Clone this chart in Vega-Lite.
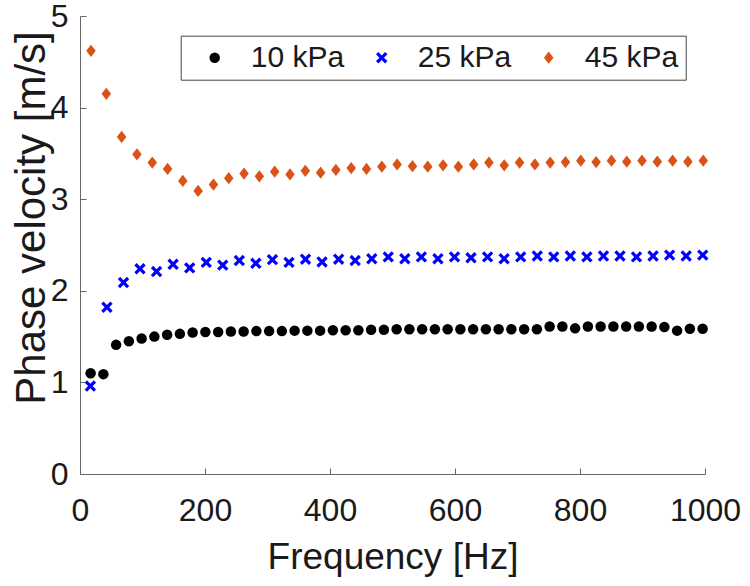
{
  "$schema": "https://vega.github.io/schema/vega-lite/v6.json",
  "width": 625,
  "height": 458,
  "autosize": {"type": "none"},
  "padding": {"left": 80, "top": 16, "right": 45, "bottom": 112},
  "background": "white",
  "config": {"view": {"stroke": null}, "font": "Liberation Sans"},
  "data": {"values": [
    {"s":"10 kPa","f":17,"v":1.10},{"s":"10 kPa","f":37.4,"v":1.09},{"s":"10 kPa","f":57.8,"v":1.41},{"s":"10 kPa","f":78.2,"v":1.45},
    {"s":"10 kPa","f":98.6,"v":1.48},{"s":"10 kPa","f":119,"v":1.50},{"s":"10 kPa","f":139.4,"v":1.52},{"s":"10 kPa","f":159.8,"v":1.53},
    {"s":"10 kPa","f":180.2,"v":1.545},{"s":"10 kPa","f":200.6,"v":1.55},{"s":"10 kPa","f":221,"v":1.55},{"s":"10 kPa","f":241.4,"v":1.555},
    {"s":"10 kPa","f":261.8,"v":1.555},{"s":"10 kPa","f":282.2,"v":1.56},{"s":"10 kPa","f":302.6,"v":1.56},{"s":"10 kPa","f":323,"v":1.56},
    {"s":"10 kPa","f":343.4,"v":1.565},{"s":"10 kPa","f":363.8,"v":1.565},{"s":"10 kPa","f":384.2,"v":1.565},{"s":"10 kPa","f":404.6,"v":1.57},
    {"s":"10 kPa","f":425,"v":1.57},{"s":"10 kPa","f":445.4,"v":1.57},{"s":"10 kPa","f":465.8,"v":1.575},{"s":"10 kPa","f":486.2,"v":1.575},
    {"s":"10 kPa","f":506.6,"v":1.58},{"s":"10 kPa","f":527,"v":1.58},{"s":"10 kPa","f":547.4,"v":1.58},{"s":"10 kPa","f":567.8,"v":1.58},
    {"s":"10 kPa","f":588.2,"v":1.58},{"s":"10 kPa","f":608.6,"v":1.58},{"s":"10 kPa","f":629,"v":1.58},{"s":"10 kPa","f":649.4,"v":1.58},
    {"s":"10 kPa","f":669.8,"v":1.58},{"s":"10 kPa","f":690.2,"v":1.58},{"s":"10 kPa","f":710.6,"v":1.58},{"s":"10 kPa","f":731,"v":1.58},
    {"s":"10 kPa","f":751.4,"v":1.61},{"s":"10 kPa","f":771.8,"v":1.61},{"s":"10 kPa","f":792.2,"v":1.59},{"s":"10 kPa","f":812.6,"v":1.61},
    {"s":"10 kPa","f":833,"v":1.61},{"s":"10 kPa","f":853.4,"v":1.61},{"s":"10 kPa","f":873.8,"v":1.61},{"s":"10 kPa","f":894.2,"v":1.61},
    {"s":"10 kPa","f":914.6,"v":1.61},{"s":"10 kPa","f":935,"v":1.605},{"s":"10 kPa","f":955.4,"v":1.565},{"s":"10 kPa","f":975.8,"v":1.585},
    {"s":"10 kPa","f":996.2,"v":1.585},
    {"s":"25 kPa","f":16.6,"v":0.96},{"s":"25 kPa","f":43.1,"v":1.82},{"s":"25 kPa","f":69.6,"v":2.09},{"s":"25 kPa","f":96.0,"v":2.24},
    {"s":"25 kPa","f":122.5,"v":2.21},{"s":"25 kPa","f":149.0,"v":2.29},{"s":"25 kPa","f":175.5,"v":2.25},{"s":"25 kPa","f":202.0,"v":2.31},
    {"s":"25 kPa","f":228.4,"v":2.28},{"s":"25 kPa","f":254.9,"v":2.33},{"s":"25 kPa","f":281.4,"v":2.30},{"s":"25 kPa","f":307.9,"v":2.34},
    {"s":"25 kPa","f":334.4,"v":2.31},{"s":"25 kPa","f":360.8,"v":2.345},{"s":"25 kPa","f":387.3,"v":2.315},{"s":"25 kPa","f":413.8,"v":2.345},
    {"s":"25 kPa","f":440.3,"v":2.33},{"s":"25 kPa","f":466.8,"v":2.35},{"s":"25 kPa","f":493.2,"v":2.37},{"s":"25 kPa","f":519.7,"v":2.35},
    {"s":"25 kPa","f":546.2,"v":2.37},{"s":"25 kPa","f":572.7,"v":2.35},{"s":"25 kPa","f":599.2,"v":2.37},{"s":"25 kPa","f":625.6,"v":2.36},
    {"s":"25 kPa","f":652.1,"v":2.37},{"s":"25 kPa","f":678.6,"v":2.35},{"s":"25 kPa","f":705.1,"v":2.37},{"s":"25 kPa","f":731.6,"v":2.38},
    {"s":"25 kPa","f":758.0,"v":2.37},{"s":"25 kPa","f":784.5,"v":2.38},{"s":"25 kPa","f":811.0,"v":2.37},{"s":"25 kPa","f":837.5,"v":2.38},
    {"s":"25 kPa","f":864.0,"v":2.38},{"s":"25 kPa","f":890.4,"v":2.37},{"s":"25 kPa","f":916.9,"v":2.38},{"s":"25 kPa","f":943.4,"v":2.39},
    {"s":"25 kPa","f":969.9,"v":2.38},{"s":"25 kPa","f":996.4,"v":2.39},
    {"s":"45 kPa","f":17.6,"v":4.62},{"s":"45 kPa","f":42.1,"v":4.15},{"s":"45 kPa","f":66.6,"v":3.68},{"s":"45 kPa","f":91.1,"v":3.49},
    {"s":"45 kPa","f":115.6,"v":3.40},{"s":"45 kPa","f":140.1,"v":3.33},{"s":"45 kPa","f":164.5,"v":3.20},{"s":"45 kPa","f":189.0,"v":3.09},
    {"s":"45 kPa","f":213.5,"v":3.16},{"s":"45 kPa","f":238.0,"v":3.23},{"s":"45 kPa","f":262.5,"v":3.28},{"s":"45 kPa","f":287.0,"v":3.25},
    {"s":"45 kPa","f":311.5,"v":3.30},{"s":"45 kPa","f":336.0,"v":3.27},{"s":"45 kPa","f":360.5,"v":3.31},{"s":"45 kPa","f":385.0,"v":3.29},
    {"s":"45 kPa","f":409.4,"v":3.32},{"s":"45 kPa","f":433.9,"v":3.34},{"s":"45 kPa","f":458.4,"v":3.33},{"s":"45 kPa","f":482.9,"v":3.355},
    {"s":"45 kPa","f":507.4,"v":3.38},{"s":"45 kPa","f":531.9,"v":3.36},{"s":"45 kPa","f":556.4,"v":3.355},{"s":"45 kPa","f":580.9,"v":3.37},
    {"s":"45 kPa","f":605.4,"v":3.355},{"s":"45 kPa","f":629.9,"v":3.38},{"s":"45 kPa","f":654.3,"v":3.40},{"s":"45 kPa","f":678.8,"v":3.37},
    {"s":"45 kPa","f":703.3,"v":3.40},{"s":"45 kPa","f":727.8,"v":3.38},{"s":"45 kPa","f":752.3,"v":3.40},{"s":"45 kPa","f":776.8,"v":3.405},
    {"s":"45 kPa","f":801.3,"v":3.42},{"s":"45 kPa","f":825.8,"v":3.405},{"s":"45 kPa","f":850.3,"v":3.42},{"s":"45 kPa","f":874.8,"v":3.41},
    {"s":"45 kPa","f":899.2,"v":3.42},{"s":"45 kPa","f":923.7,"v":3.41},{"s":"45 kPa","f":948.2,"v":3.42},{"s":"45 kPa","f":972.7,"v":3.41},
    {"s":"45 kPa","f":997.2,"v":3.42}
  ]},
  "mark": {"type": "point", "filled": true, "opacity": 1, "strokeWidth": 0},
  "encoding": {
    "x": {
      "field": "f", "type": "quantitative",
      "scale": {"domain": [0, 1000], "nice": false, "zero": false},
      "axis": {
        "title": "Frequency [Hz]", "values": [0, 200, 400, 600, 800, 1000], "format": "d", "grid": false,
        "tickSize": -6, "tickColor": "#666", "domainColor": "#666", "domainWidth": 1,
        "labelFontSize": 32, "labelColor": "#1a1a1a", "labelPadding": 27, "labelFlush": false, "labelOverlap": false,
        "titleFontSize": 37, "titleFontWeight": "normal", "titleColor": "#1a1a1a",
        "titleBaseline": "alphabetic", "titleAlign": "center", "titleX": 312.5, "titleY": 94
      }
    },
    "y": {
      "field": "v", "type": "quantitative",
      "scale": {"domain": [0, 5], "nice": false},
      "axis": {
        "title": "Phase velocity [m/s]", "values": [0, 1, 2, 3, 4, 5], "grid": false,
        "tickSize": -6, "tickColor": "#666", "domainColor": "#666", "domainWidth": 1,
        "labelFontSize": 32, "labelColor": "#1a1a1a", "labelPadding": 18, "labelFlush": false, "labelOverlap": false,
        "titleFontSize": 42, "titleFontWeight": "normal", "titleColor": "#1a1a1a",
        "titleAngle": -90, "titleBaseline": "alphabetic", "titleAlign": "center", "titleX": -36, "titleY": 201.5
      }
    },
    "color": {
      "field": "s", "type": "nominal",
      "scale": {"domain": ["10 kPa", "25 kPa", "45 kPa"], "range": ["#000000", "#0000ff", "#d95319"]},
      "legend": {
        "title": null, "orient": "none", "legendX": 100.7, "legendY": 19.7, "direction": "horizontal",
        "labelFontSize": 30, "labelColor": "#1a1a1a", "symbolSize": 130, "symbolStrokeWidth": 0,
        "strokeColor": "#444", "fillColor": "white", "padding": 7, "symbolOffset": 12,
        "labelOffset": 21, "columnPadding": 10
      }
    },
    "shape": {
      "field": "s", "type": "nominal",
      "scale": {"domain": ["10 kPa", "25 kPa", "45 kPa"], "range": ["circle", "M-1,-0.6L-0.6,-1L0,-0.4L0.6,-1L1,-0.6L0.4,0L1,0.6L0.6,1L0,0.4L-0.6,1L-1,0.6L-0.4,0Z", "M0,-1L0.78,0L0,1L-0.78,0Z"]}
    },
    "size": {
      "field": "s", "type": "nominal",
      "scale": {"domain": ["10 kPa", "25 kPa", "45 kPa"], "range": [110, 150, 170]},
      "legend": null
    }
  }
}
